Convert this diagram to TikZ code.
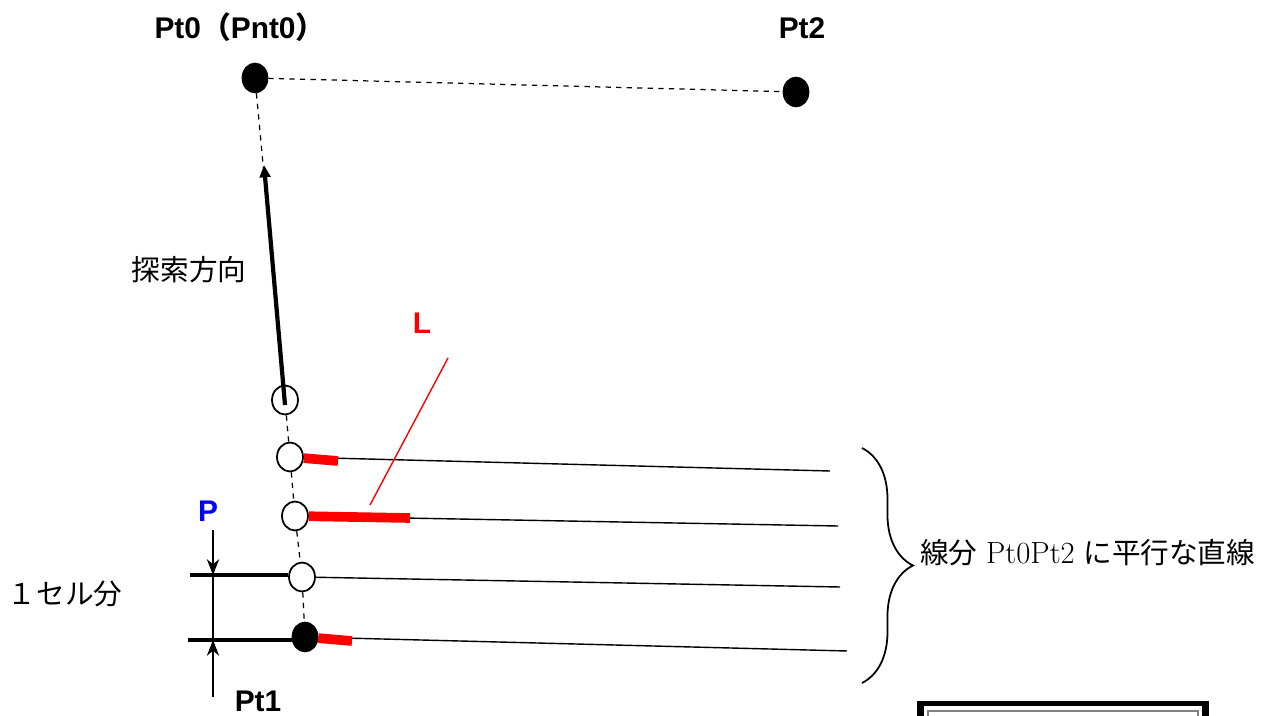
\documentclass[tikz,border=0pt]{standalone}
\usepackage{fontspec}
\setmainfont{Latin Modern Roman}
\newfontfamily\lbl{Liberation Sans}
\newfontfamily\cjk{Noto Sans CJK JP}
\usepackage{tikz}
\usetikzlibrary{arrows.meta,positioning,calc,shapes.geometric,decorations.pathreplacing}

\begin{document}
\begin{tikzpicture}[
  x=0.02cm, y=-0.02cm,
  dot/.style={draw, fill=black, ellipse, minimum width=0.52cm, minimum height=0.6cm, inner sep=0pt},
  cell/.style={draw, fill=white, ellipse, line width=1pt, minimum width=0.52cm, minimum height=0.58cm, inner sep=0pt},
  ptlabel/.style={font=\lbl\bfseries\fontsize{17}{19}\selectfont},
  jtext/.style={font=\fontsize{16.3}{19}\selectfont},
  guide/.style={dashed, line width=0.7pt},
  par/.style={line width=0.8pt},
  hit/.style={red, line width=5.5pt},
  arr/.style={-{Stealth[length=9pt,width=7pt]}, line width=0.8pt}
]
\useasboundingbox (0,0) rectangle (1268,716);
%% ─── Points and cells ──────────────────────────────────────────────────────
\node[dot]  (pt0) at (255,78)  {};
\node[dot]  (pt2) at (796,92)  {};
\node[cell] (c1)  at (285,400) {};
\node[cell] (c2)  at (290,457) {};
\node[cell] (c3)  at (295,516) {};
\node[cell] (c4)  at (302,577) {};
\node[dot]  (pt1) at (305,637) {};
%% ─── Labels ────────────────────────────────────────────────────────────────
\node[ptlabel] (lpt0) at (240,27)  {Pt0{\cjk\bfseries （}Pnt0{\cjk\bfseries ）}};
\node[ptlabel] (lpt2) at (802,28)  {Pt2};
\node[ptlabel, text=red]  (lL) at (422,323) {L};
\node[ptlabel, text=blue] (lP) at (208,511) {P};
\node[ptlabel] (lpt1) at (258,701) {Pt1};
\node[jtext]   (ldir)  at (189,270) {\cjk 探索方向};
\node[jtext]   (lcell) at (65,594)  {\cjk １セル分};
\node[jtext, anchor=west] (lpar) at (914,553) {{\cjk 線分} {\fontsize{17.5}{19}\selectfont Pt0Pt2} {\cjk に平行な直線}};
%% ─── Guide lines ───────────────────────────────────────────────────────────
\draw[guide] (pt0) -- (pt2);
\draw[guide] (pt0) -- (c1) -- (c2) -- (c3) -- (c4) -- (pt1);
\coordinate (tip) at (264,165);
\draw[-{Triangle[length=7pt,width=6pt]}, line width=2.4pt] ($(c1)+(0,5)$) -- (tip);
%% ─── Lines parallel to Pt0Pt2 ──────────────────────────────────────────────
\coordinate (e2) at (830,471);
\coordinate (e3) at (838,526);
\coordinate (e4) at (840,587);
\coordinate (e5) at (847,651);
\draw[par] (c2)  -- (e2);
\draw[par] (c3)  -- (e3);
\draw[par] (c4)  -- (e4);
\draw[par] (pt1) -- (e5);
\coordinate (r2) at (338,461);
\coordinate (r3) at (410,518);
\coordinate (r5) at (352,641);
\draw[hit] (c2)  -- (r2);
\draw[hit] (c3)  -- (r3);
\draw[hit] (pt1) -- (r5);
\coordinate (lead) at (448,358);
\coordinate (leadend) at (370,505);
\draw[red, line width=0.8pt] (lead) -- (leadend);
%% ─── One-cell dimension ────────────────────────────────────────────────────
\coordinate (h3) at (190,575);
\coordinate (h5) at (188,640);
\draw[line width=2pt] (h3) -- (h3 -| c4.west);
\draw[line width=2pt] (h5) -- (h5 -| pt1.west);
\coordinate (dtop) at (213,530);
\coordinate (d3)   at (213,575);
\coordinate (d5)   at (213,640);
\coordinate (dbot) at (213,697);
\draw[arr] (dtop) -- (d3);
\draw[par] (d3) -- (d5);
\draw[arr] (dbot) -- (d5);
%% ─── Brace ─────────────────────────────────────────────────────────────────
\coordinate (btop) at (862,448);
\coordinate (bbot) at (862,683);
\draw[decorate, decoration={brace, amplitude=29pt}, line width=1pt] (btop) -- (bbot);
%% ─── Cut-off frame at the bottom ───────────────────────────────────────────
\begin{scope}
\clip (0,0) rectangle (1268,716);
\fill[black] (917,701) rectangle (1209,730);
\fill[white] (924,706) rectangle (1202,730);
\draw[gray, line width=0.8pt] (928,711) rectangle (1198,730);
\end{scope}
\end{tikzpicture}
\end{document}
